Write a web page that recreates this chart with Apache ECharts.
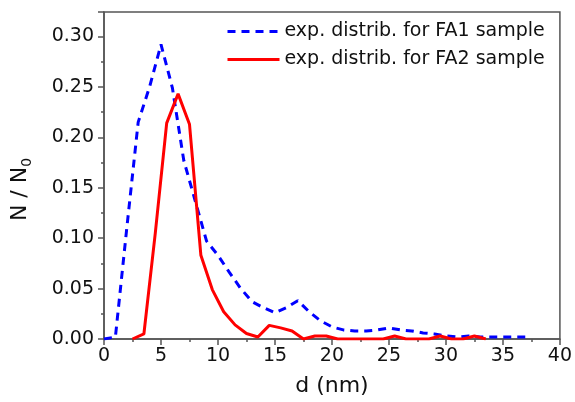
<!DOCTYPE html>
<html>
<head>
<meta charset="utf-8">
<script src="https://cdn.jsdelivr.net/npm/echarts@6/dist/echarts.min.js"></script>
<style>
  html, body { margin: 0; padding: 0; background: #fff; }
  #main { width: 575px; height: 402px; }
</style>
</head>
<body>
<div id="main"></div>
<script>
// FA1 sample
const fa1D = [0, 1, 2, 3, 4, 5, 6, 7, 8, 9, 10, 11, 12, 13, 14, 15, 16, 17, 18, 19, 20,
  21, 22, 23, 24, 25, 26, 27, 28, 29, 30, 31, 32, 33, 34, 35, 36, 37]
const fa1N = [0, 0.002, 0.11, 0.215, 0.25, 0.292, 0.249, 0.177, 0.137, 0.097, 0.083, 0.066, 0.05, 0.037, 0.031, 0.026, 0.031, 0.038, 0.027, 0.018, 0.012,
  0.009, 0.008, 0.008, 0.009, 0.011, 0.009, 0.008, 0.006, 0.005, 0.003, 0.002, 0.003, 0.002, 0.002, 0.002, 0.002, 0.002]

// FA2 sample
const fa2D = [2.5, 3.5, 4.5, 5.5, 6.5, 7.5, 8.5, 9.5, 10.5, 11.5, 12.5, 13.5, 14.5, 15.5, 16.5, 17.5, 18.5, 19.5, 20.5,
  21.5, 22.5, 23.5, 24.5, 25.5, 26.5, 27.5, 28.5, 29.5, 30.5, 31.5, 32.5, 33.5]
const fa2N = [0, 0.005, 0.105, 0.214, 0.243, 0.213, 0.083, 0.049, 0.027, 0.014, 0.0055, 0.002, 0.0135, 0.011, 0.008, 0, 0.003, 0.003, 0,
  0, 0, 0, 0, 0.003, 0, 0, 0, 0.003, 0, 0, 0.003, 0]

const seriesNames = ['exp. distrib. for FA1 sample', 'exp. distrib. for FA2 sample']

const FONT = 'DejaVu Sans'

function pairs (xs, ys) {
  const out = []
  for (let i = 0; i < xs.length; i++) {
    out.push([xs[i], ys[i]])
  }
  return out
}

const myChart = echarts.init(document.getElementById('main'), null, {renderer: 'canvas'})

const option = {
  animation: false,
  backgroundColor: '#fff',
  grid: {
    left: 104,
    right: 14,
    top: 12,
    bottom: 60,
    show: true,
    borderColor: '#555',
    borderWidth: 1.5,
    backgroundColor: 'transparent'
  },
  legend: {
    orient: 'vertical',
    left: 221,
    top: 17,
    itemWidth: 52,
    itemHeight: 14,
    itemGap: 9,
    itemStyle: {opacity: 0},
    lineStyle: {width: 3},
    textStyle: {fontFamily: FONT, fontSize: 19, color: '#111'},
    data: seriesNames
  },
  xAxis: {
    type: 'value',
    min: 0,
    max: 40,
    interval: 5,
    name: 'd (nm)',
    nameLocation: 'middle',
    nameGap: 36,
    nameTextStyle: {fontFamily: FONT, fontSize: 22, color: '#111'},
    axisLine: {show: true, onZero: false, lineStyle: {color: '#555', width: 1.5}},
    axisTick: {show: true, length: 6, lineStyle: {color: '#555', width: 1.5}},
    minorTick: {show: true, splitNumber: 2, length: 3, lineStyle: {color: '#555', width: 1.5}},
    splitLine: {show: false},
    axisLabel: {fontFamily: FONT, fontSize: 19, color: '#111', margin: 8}
  },
  yAxis: {
    type: 'value',
    min: 0,
    max: 0.3242,
    interval: 0.05,
    name: '{a|N / N}{b|0}',
    nameLocation: 'middle',
    nameRotate: 90,
    nameGap: 70,
    nameTextStyle: {
      padding: [0, 28, 0, 0],
      rich: {
        a: {fontFamily: FONT, fontSize: 22, color: '#111'},
        b: {fontFamily: FONT, fontSize: 14, color: '#111', padding: [14, 0, 0, 0]}
      }
    },
    axisLine: {show: true, onZero: false, lineStyle: {color: '#555', width: 1.5}},
    axisTick: {show: true, length: 6, lineStyle: {color: '#555', width: 1.5}},
    minorTick: {show: true, splitNumber: 2, length: 3, lineStyle: {color: '#555', width: 1.5}},
    splitLine: {show: false},
    axisLabel: {
      fontFamily: FONT,
      fontSize: 19,
      color: '#111',
      margin: 10,
      showMaxLabel: false,
      formatter: function (v) { return v.toFixed(2) }
    }
  },
  series: [
    {
      name: seriesNames[0],
      type: 'line',
      data: pairs(fa1D, fa1N),
      symbol: 'none',
      color: '#0000ff',
      lineStyle: {color: '#0000ff', width: 3, type: [8, 6]}
    },
    {
      name: seriesNames[1],
      type: 'line',
      data: pairs(fa2D, fa2N),
      symbol: 'none',
      color: '#ff0000',
      lineStyle: {color: '#ff0000', width: 3, type: 'solid'}
    }
  ]
}

myChart.setOption(option)
</script>
</body>
</html>
